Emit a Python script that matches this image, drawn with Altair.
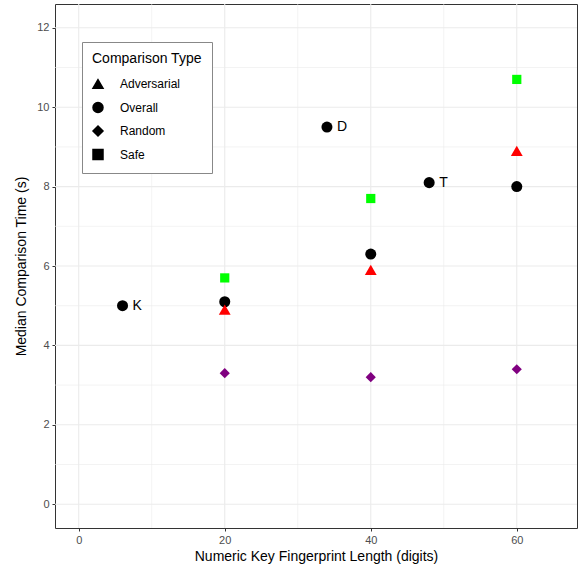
import altair as alt
import pandas as pd

# Data
overall_x = [6, 34, 48, 20, 40, 60]
overall_y = [5.0, 9.5, 8.1, 5.1, 6.3, 8.0]
overall_lbl = ["K", "D", "T", "", "", ""]

lengths = [20, 40, 60]
adversarial = [4.9, 5.9, 8.9]
random_ = [3.3, 3.2, 3.4]
safe = [5.7, 7.7, 10.7]

types = ["Adversarial", "Overall", "Random", "Safe"]
shapes = ["triangle-up", "circle", "diamond", "square"]
colors = ["#ff0000", "#000000", "#800080", "#00ff00"]
sizes = [140, 85, 65, 100]

x_major = [0, 20, 40, 60]
x_minor = [10, 30, 50]
y_major = [0, 2, 4, 6, 8, 10, 12]
y_minor = [1, 3, 5, 7, 9, 11]

rows = []
for x, y, l in zip(overall_x, overall_y, overall_lbl):
    rows.append({"x": x, "y": y, "type": "Overall", "label": l})
for name, vals in [("Adversarial", adversarial), ("Random", random_), ("Safe", safe)]:
    for x, y in zip(lengths, vals):
        rows.append({"x": x, "y": y, "type": name, "label": ""})
df = pd.DataFrame(rows)

xscale = alt.Scale(domain=[-3.25, 68.25], nice=False, zero=False)
yscale = alt.Scale(domain=[-0.6, 12.6], nice=False, zero=False)

grid_minor_x = alt.Chart(pd.DataFrame({"v": x_minor})).mark_rule(
    color="#ebebeb", strokeWidth=0.6
).encode(x=alt.X("v:Q", scale=xscale))
grid_minor_y = alt.Chart(pd.DataFrame({"v": y_minor})).mark_rule(
    color="#ebebeb", strokeWidth=0.6
).encode(y=alt.Y("v:Q", scale=yscale))
grid_major_x = alt.Chart(pd.DataFrame({"v": x_major})).mark_rule(
    color="#ebebeb", strokeWidth=1.1
).encode(x=alt.X("v:Q", scale=xscale))
grid_major_y = alt.Chart(pd.DataFrame({"v": y_major})).mark_rule(
    color="#ebebeb", strokeWidth=1.1
).encode(y=alt.Y("v:Q", scale=yscale))

# color/size use copies of the field (no explicit domain) so their hidden
# legends are not merged with the shape legend
points = alt.Chart(df).transform_calculate(
    tcol="datum.type", tsize="datum.type"
).mark_point(filled=True, opacity=1).encode(
    x=alt.X("x:Q", scale=xscale,
            axis=alt.Axis(values=x_major, title="Numeric Key Fingerprint Length (digits)")),
    y=alt.Y("y:Q", scale=yscale,
            axis=alt.Axis(values=y_major, title="Median Comparison Time (s)")),
    shape=alt.Shape("type:N", scale=alt.Scale(domain=types, range=shapes),
                    legend=alt.Legend(title="Comparison Type", orient="none",
                                      legendX=27, legendY=38,
                                      symbolFillColor="black", symbolStrokeColor="black",
                                      symbolSize=100,
                                      labelFontSize=12, titleFontSize=14,
                                      titleFontWeight="normal", titleColor="black",
                                      labelColor="black", rowPadding=7.5,
                                      padding=10, strokeColor="#888888",
                                      fillColor="white", labelOffset=16,
                                      titlePadding=12)),
    color=alt.Color("tcol:N", scale=alt.Scale(range=colors), legend=None),
    size=alt.Size("tsize:N", scale=alt.Scale(range=sizes), legend=None),
)

labels = alt.Chart(df).mark_text(
    align="left", dx=10, fontSize=14, color="black", font="Liberation Sans"
).encode(
    x=alt.X("x:Q", scale=xscale),
    y=alt.Y("y:Q", scale=yscale),
    text="label:N",
)

chart = alt.layer(grid_minor_x, grid_minor_y, grid_major_x, grid_major_y, points, labels).properties(
    width=522, height=524,
    padding={"left": 55, "top": 4, "right": 3, "bottom": 41},
    autosize=alt.AutoSizeParams(type="none"),
).configure_view(
    stroke="#333333", strokeWidth=1
).configure_axis(
    grid=False, domain=False, tickColor="#333333", tickSize=3,
    labelColor="#4d4d4d", labelFontSize=11, labelFont="Liberation Sans",
    titleFont="Liberation Sans", titleFontSize=14, titleFontWeight="normal",
    titleColor="black", labelPadding=3,
).configure_axisX(titlePadding=4).configure_axisY(titlePadding=8).configure_legend(
    labelFont="Liberation Sans", titleFont="Liberation Sans"
)

chart.save("out.html", embed_options={"renderer": "svg", "actions": False})
